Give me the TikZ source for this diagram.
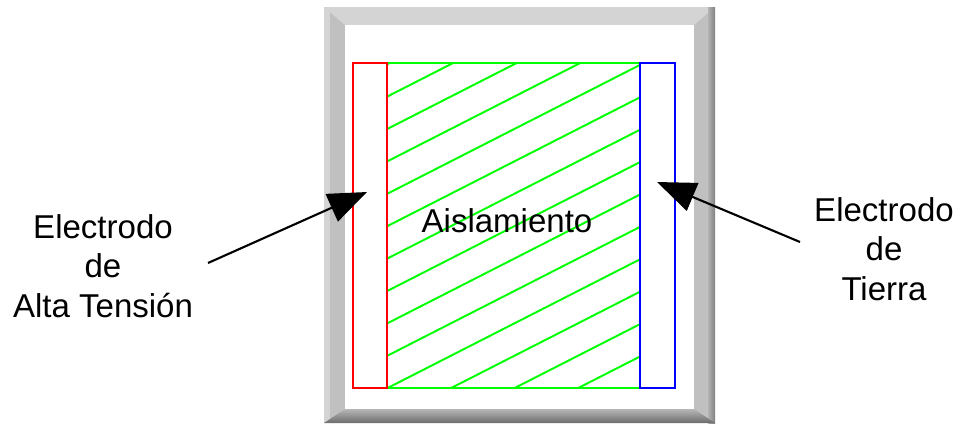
\documentclass[tikz,border=0pt]{standalone}
\usepackage{fontspec}
\setmainfont{Liberation Sans}
\usetikzlibrary{arrows.meta}
\definecolor{framegray}{HTML}{C0C0C0}
\definecolor{framelight}{HTML}{D4D4D4}
\definecolor{framedark}{HTML}{808080}
\definecolor{hvred}{HTML}{FF0000}
\definecolor{gndblue}{HTML}{0000FF}
\definecolor{insgreen}{HTML}{00FF00}
\tikzset{
  electrode/.style={line width=1.2pt},
  hatch/.style={insgreen, line width=1.1pt},
  label/.style={font=\fontsize{18.8}{22.6}\selectfont, align=center, inner sep=0pt},
  pointer/.style={line width=1.2pt, -{Triangle[length=22pt,width=17pt]}}
}

\begin{document}
\begin{tikzpicture}[x=0.02cm, y=-0.02cm]
    \useasboundingbox (0,0) rectangle (955,424);

    \fill[framegray] (324,7) rectangle (715,423);
    \fill[framelight] (324,7) -- (715,7) -- (694,25) -- (345,25) -- cycle;
    \fill[framelight] (324,7) rectangle (330,423);
    \shade[left color=framegray!80!framedark, right color=framedark] (708,7) rectangle (715,423);
    \shade[top color=framegray!85!framedark, bottom color=framedark!85!black]
        (345,409) -- (694,409) -- (715,423) -- (324,423) -- cycle;
    \fill[white] (345,25) rectangle (694,409);

    \begin{scope}
        \clip (387,63) rectangle (640,388);
        \foreach \k in {-4,...,13}
            \draw[hatch] (387,{96.7+32.4*\k}) -- (640,{96.7+32.4*\k-129});
    \end{scope}
    \draw[insgreen, electrode] (387,63) rectangle (640,388);
    \draw[hvred, electrode] (353,63) rectangle (387,388);
    \draw[gndblue, electrode] (640,63) rectangle (675,388);

    \node[label] (ais) at (507,221) {Aislamiento};
    \node[label] (hv) at (103,266) {Electrodo\\de\\Alta Tensión};
    \node[label] (gnd) at (884,249) {Electrodo\\de\\Tierra};

    \coordinate (hvtail) at (208,263);
    \coordinate (hvtip) at (367,192);
    \coordinate (gndtail) at (800,242);
    \coordinate (gndtip) at (657,182);
    \draw[pointer] (hvtail) -- (hvtip);
    \draw[pointer] (gndtail) -- (gndtip);
\end{tikzpicture}
\end{document}
